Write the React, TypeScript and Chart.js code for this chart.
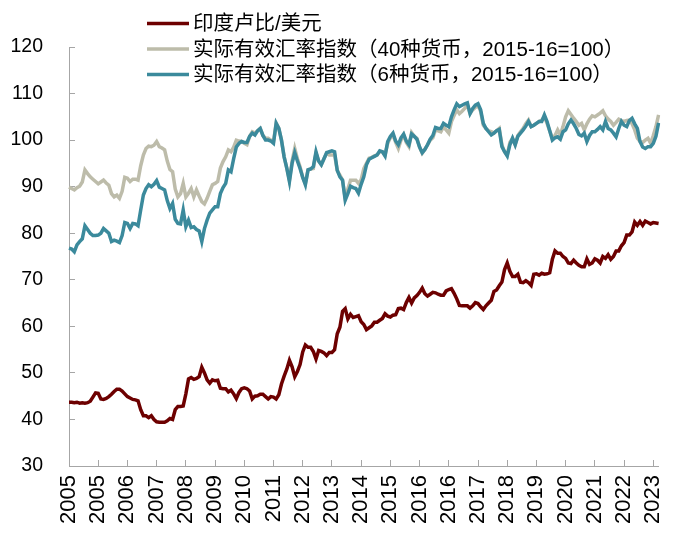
import React, { useEffect, useRef } from "react";
import { Chart, registerables } from "chart.js";

Chart.register(...registerables);

const START_YEAR = 2005;
const N_MONTHS = 223;
const MONTHS: string[] = [];
for (let i = 0; i < N_MONTHS; i++) {
  const y = START_YEAR + Math.floor(i / 12);
  const m = (i % 12) + 1;
  MONTHS.push(`${y}-${m < 10 ? "0" + m : m}`);
}
const TICK_EVERY = 11;

const SERIES_NAMES = [
  "印度卢比/美元",
  "实际有效汇率指数（40种货币，2015-16=100）",
  "实际有效汇率指数（6种货币，2015-16=100）",
];
const SERIES_COLORS = ["#6d0000", "#bdbcaa", "#3b8a9c"];

const INR_USD = [
  43.7, 43.7, 43.6, 43.7, 43.5, 43.6, 43.5, 43.6, 43.9, 44.8, 45.7, 45.6,
  44.4, 44.3, 44.5, 44.9, 45.4, 46.0, 46.5, 46.5, 46.1, 45.5, 44.9, 44.6,
  44.3, 44.2, 44.0, 42.1, 40.8, 40.8, 40.4, 40.8, 40.0, 39.5, 39.4, 39.4,
  39.4, 39.7, 40.2, 40.0, 42.1, 42.8, 42.8, 42.9, 45.5, 48.7, 49.0, 48.6,
  48.8, 49.2, 51.2, 50.0, 48.5, 47.8, 48.5, 48.3, 48.4, 46.7, 46.6, 46.6,
  45.9, 46.3, 45.5, 44.5, 45.8, 46.6, 46.8, 46.6, 46.1, 44.4, 45.0, 45.1,
  45.4, 45.4, 44.9, 44.4, 44.9, 44.8, 44.4, 45.3, 47.6, 49.3, 50.8, 52.7,
  51.3, 49.2, 50.3, 51.8, 54.5, 56.0, 55.5, 55.5, 54.6, 53.0, 54.8, 54.6,
  54.3, 53.7, 54.4, 54.4, 55.0, 58.4, 59.8, 63.2, 63.8, 61.6, 62.6, 61.9,
  62.1, 62.3, 61.0, 60.4, 59.3, 59.7, 60.1, 60.9, 60.9, 61.3, 61.7, 62.7,
  62.2, 62.0, 62.4, 62.5, 63.8, 63.9, 63.6, 65.1, 66.2, 65.0, 66.1, 66.6,
  67.3, 68.2, 67.0, 66.5, 66.9, 67.3, 67.2, 66.9, 66.7, 66.7, 67.6, 67.9,
  68.1, 67.1, 65.9, 64.5, 64.4, 64.4, 64.4, 63.9, 64.4, 65.1, 64.9, 64.2,
  63.6, 64.4, 65.0, 65.6, 67.5, 67.8, 68.7, 69.5, 72.2, 73.6, 71.8, 70.7,
  70.7, 71.2, 69.5, 69.4, 69.8, 69.4, 68.8, 71.2, 71.3, 71.0, 71.4, 71.2,
  71.3, 71.5, 74.4, 76.2, 75.7, 75.7, 75.0, 74.6, 73.6, 73.5, 74.2, 73.6,
  73.1, 72.8, 72.8, 74.5, 73.3, 73.6, 74.5, 74.2, 73.6, 75.0, 74.6, 75.4,
  74.4, 75.0, 76.2, 76.2, 77.3, 78.0, 79.6, 79.6, 80.3, 82.4, 81.7, 82.5,
  81.7, 82.6, 82.3, 82.0, 82.3, 82.2, 82.1,
];

const REER_40 = [
  89.9, 89.6, 89.3, 89.8, 90.1, 91.0, 93.6, 92.8, 92.1, 91.6, 91.1, 90.6,
  91.0, 91.4, 90.8, 90.3, 88.5, 87.8, 88.2, 87.5, 89.0, 92.0, 91.8, 91.1,
  91.6, 91.6, 91.4, 94.5, 96.8, 98.2, 98.7, 98.6, 98.9, 99.7, 98.6, 98.3,
  97.9, 95.5, 93.7, 93.2, 89.5, 87.8, 88.5, 90.7, 87.8, 88.6, 89.6, 87.8,
  89.3, 88.0, 86.8, 86.3, 87.5, 89.0, 90.4, 90.7, 91.1, 94.0, 95.4, 96.4,
  97.9, 97.5, 98.5, 100.0, 99.8, 99.7, 99.3, 99.0, 100.8, 101.8, 101.5, 102.0,
  102.5, 101.0, 100.4, 100.4, 100.0, 99.7, 103.6, 102.5, 100.0, 96.4, 94.0, 91.4,
  95.5, 98.2, 96.0, 94.3, 92.0, 90.7, 93.6, 93.8, 93.9, 97.2, 95.5, 94.7,
  96.0, 97.2, 96.8, 96.8, 96.8, 93.5, 92.5, 91.4, 87.5, 89.5, 91.4, 91.4,
  91.4, 90.7, 91.5, 93.9, 95.0, 96.1, 96.3, 96.6, 96.8, 97.5, 97.5, 96.8,
  99.3, 100.5, 101.1, 99.5, 98.2, 100.0, 101.1, 99.5, 98.6, 101.6, 100.8, 100.4,
  98.5, 97.2, 98.0, 99.0, 100.0, 100.5, 102.2, 102.0, 101.8, 102.9, 102.2, 101.5,
  104.0, 105.3, 106.5, 105.7, 106.2, 106.8, 107.5, 105.7, 106.5, 107.0, 107.5, 106.1,
  103.2, 102.5, 102.0, 101.8, 101.5, 102.0, 102.5, 99.0, 97.5, 96.8, 99.5, 100.4,
  99.0, 101.0, 101.8, 102.5, 103.5, 104.3, 102.9, 103.2, 103.6, 104.0, 104.3, 105.0,
  103.6, 102.0, 100.4, 101.0, 102.2, 101.1, 102.9, 105.0, 106.3, 105.5, 104.7, 104.0,
  103.2, 103.6, 102.2, 103.5, 104.5, 105.2, 105.0, 105.4, 105.8, 106.3, 105.2, 104.5,
  104.0, 103.2, 103.8, 104.5, 104.2, 104.0, 104.2, 104.3, 103.5, 102.2, 100.4, 99.7,
  99.5, 100.0, 100.4, 99.3, 101.0, 102.9, 105.4,
];

const REER_6 = [
  76.8, 76.6, 76.0, 77.5, 78.2, 78.8, 81.6, 80.8, 80.0, 79.5, 79.5, 79.6,
  80.0, 81.0, 80.5, 80.0, 78.2, 78.5, 78.3, 78.0, 79.5, 82.3, 82.1, 81.0,
  82.1, 82.0, 81.6, 85.0, 88.2, 89.6, 90.4, 90.0, 90.5, 91.3, 89.9, 89.6,
  89.3, 87.0, 85.3, 86.4, 83.0, 82.1, 82.0, 85.0, 81.4, 82.8, 81.2, 81.4,
  80.8, 80.5, 78.2, 81.0, 82.8, 84.3, 85.0, 85.7, 85.7, 88.5, 89.8, 90.7,
  93.6, 93.2, 96.0, 98.5, 99.3, 99.7, 99.5, 99.5, 100.8, 101.5, 101.1, 102.0,
  102.5, 101.0, 100.0, 100.0, 99.8, 99.3, 103.6, 102.5, 100.0, 96.4, 94.0, 91.1,
  95.0, 97.3, 95.5, 93.9, 92.0, 90.4, 93.6, 93.8, 94.3, 97.5, 95.5, 94.7,
  96.0, 97.3, 97.5, 97.7, 97.5, 93.5, 92.1, 91.4, 87.1, 88.5, 90.1, 89.8,
  89.6, 88.6, 90.5, 92.1, 94.7, 95.9, 96.2, 96.5, 96.8, 97.7, 97.5, 96.6,
  99.7, 100.8, 101.5, 99.8, 99.0, 100.5, 101.3, 99.8, 99.0, 101.3, 100.8, 100.2,
  98.5, 97.3, 98.0, 99.0, 100.2, 101.0, 102.7, 102.5, 102.5, 103.6, 103.2, 102.9,
  105.0, 106.5, 107.8, 107.2, 107.5, 107.8, 108.0, 105.7, 106.8, 107.5, 107.8, 106.5,
  103.6, 102.5, 101.8, 101.1, 101.5, 102.0, 102.3, 98.6, 97.5, 96.6, 99.0, 100.4,
  99.0, 100.8, 101.5, 102.2, 103.0, 104.0, 102.9, 103.2, 103.6, 104.0, 104.0, 105.4,
  104.0, 102.0, 100.0, 100.5, 100.7, 100.2, 101.8, 102.2, 103.5, 104.3, 103.5, 102.5,
  101.2, 100.9, 101.5, 99.7, 101.0, 101.8, 101.8, 102.3, 102.9, 102.2, 104.0, 102.5,
  102.2, 101.5, 100.7, 102.5, 104.0, 103.2, 102.9, 104.2, 104.7, 103.5, 102.5, 99.7,
  98.5, 98.2, 98.6, 98.6, 99.3, 100.8, 103.7,
];

const Y_MIN = 30;
const Y_MAX = 120;
const Y_STEP = 10;

const FONT_FAMILY = "'Liberation Sans', Arial, 'Noto Sans CJK SC', sans-serif";
const AXIS_COLOR = "#a6a6a6";

const legendPlugin = {
  id: "customLegend",
  afterDraw(chart: any) {
    const ctx = chart.ctx;
    const rows = [23.5, 49, 74.5];
    ctx.save();
    ctx.font = `20.5px ${FONT_FAMILY}`;
    ctx.textBaseline = "middle";
    ctx.textAlign = "left";
    chart.data.datasets.forEach((ds: any, i: number) => {
      const y = rows[i];
      ctx.strokeStyle = ds.borderColor;
      ctx.lineWidth = 3.5;
      ctx.beginPath();
      ctx.moveTo(147, y);
      ctx.lineTo(189, y);
      ctx.stroke();
      ctx.fillStyle = "#000";
      ctx.fillText(ds.label, 193, y + 1);
    });
    ctx.restore();
  },
};

export default function App() {
  const ref = useRef<HTMLCanvasElement>(null);
  useEffect(() => {
    if (!ref.current) return;
    const seriesData = [INR_USD, REER_40, REER_6];
    const chart = new Chart(ref.current, {
      type: "line",
      data: {
        labels: MONTHS,
        datasets: seriesData.map((d, i) => ({
          label: SERIES_NAMES[i],
          data: d,
          borderColor: SERIES_COLORS[i],
          backgroundColor: SERIES_COLORS[i],
          borderWidth: 3.5,
          pointRadius: 0,
          tension: 0,
          fill: false,
          order: 2 - i,
        })),
      },
      options: {
        responsive: false,
        animation: false,
        devicePixelRatio: 1,
        layout: { padding: { top: 47, right: 20, left: 0, bottom: 0 } },
        plugins: {
          legend: { display: false },
          tooltip: { enabled: false },
        },
        scales: {
          x: {
            type: "category",
            offset: false,
            border: { display: true, color: AXIS_COLOR, width: 1 },
            grid: {
              drawOnChartArea: false,
              drawTicks: true,
              tickLength: -6,
              tickColor: (c: any) =>
                c.index % TICK_EVERY === 0 ? AXIS_COLOR : "rgba(0,0,0,0)",
            },
            ticks: {
              autoSkip: false,
              maxRotation: 90,
              minRotation: 90,
              padding: 15,
              color: "#000",
              font: { family: FONT_FAMILY, size: 22 },
              callback: (_v: any, idx: number) =>
                idx % TICK_EVERY === 0 ? MONTHS[idx].slice(0, 4) : "",
            },
            afterFit: (s: any) => {
              s.height = 71;
            },
          },
          y: {
            min: Y_MIN,
            max: Y_MAX,
            border: { display: true, color: AXIS_COLOR, width: 1 },
            grid: {
              drawOnChartArea: false,
              drawTicks: true,
              tickLength: -6,
              tickColor: AXIS_COLOR,
            },
            ticks: {
              stepSize: Y_STEP,
              padding: 32,
              color: "#000",
              font: { family: FONT_FAMILY, size: 19.5 },
            },
            afterFit: (s: any) => {
              s.width = 69;
            },
          },
        },
      },
      plugins: [legendPlugin],
    });
    return () => chart.destroy();
  }, []);
  return (
    <div
      style={{
        position: "fixed",
        left: 0,
        top: 0,
        width: 700,
        height: 537,
        background: "#fff",
      }}
    >
      <canvas ref={ref} width={700} height={537} />
    </div>
  );
}
